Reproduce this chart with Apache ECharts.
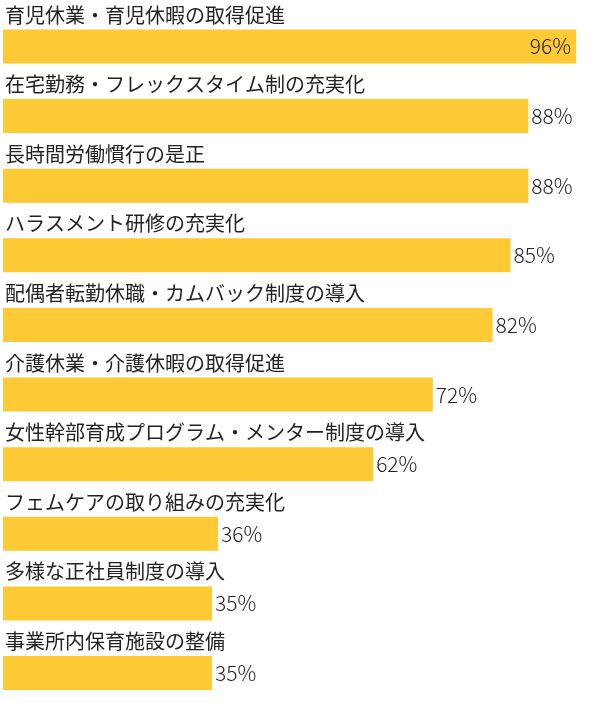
<!DOCTYPE html>
<html><head><meta charset="utf-8">
<script src="https://cdn.jsdelivr.net/npm/echarts@6/dist/echarts.min.js"></script>
<style>html,body{margin:0;padding:0;background:#fff}#c{width:602px;height:702px}</style>
</head><body><div id="c"></div>
<script>
const categories = [
  '育児休業・育児休暇の取得促進',
  '在宅勤務・フレックスタイム制の充実化',
  '長時間労働慣行の是正',
  'ハラスメント研修の充実化',
  '配偶者転勤休職・カムバック制度の導入',
  '介護休業・介護休暇の取得促進',
  '女性幹部育成プログラム・メンター制度の導入',
  'フェムケアの取り組みの充実化',
  '多様な正社員制度の導入',
  '事業所内保育施設の整備'
];
const values = [96, 88, 88, 85, 82, 72, 62, 36, 35, 35];

const chart = echarts.init(document.getElementById('c'));
const font = '"Noto Sans CJK JP", "Noto Sans", sans-serif';
chart.setOption({
  animation: false,
  grid: { left: 3, right: 2, top: 46.5, bottom: 29 },
  xAxis: { type: 'value', min: 0, max: 100, show: false },
  yAxis: {
    type: 'category', data: categories, inverse: true, boundaryGap: false,
    axisLine: { show: false }, axisTick: { show: false }, splitLine: { show: false },
    axisLabel: {
      inside: true, margin: 2, align: 'left', verticalAlign: 'middle',
      fontFamily: font, fontSize: 20, color: '#222',
      formatter: v => '{a|' + v + '}',
      rich: { a: { fontFamily: font, fontSize: 20, color: '#222', padding: [0, 0, 63, 0] } }
    }
  },
  series: [{
    type: 'bar', barWidth: 34,
    itemStyle: { color: '#fdc934' },
    data: values.map((v, i) => ({
      value: v,
      label: i === 0 ? { position: 'insideRight', distance: 5 } : undefined
    })),
    label: {
      show: true, position: 'right', distance: 3,
      fontFamily: font, fontSize: 21, fontWeight: 300, color: '#222',
      formatter: p => p.value + '%'
    }
  }]
});
</script></body></html>
